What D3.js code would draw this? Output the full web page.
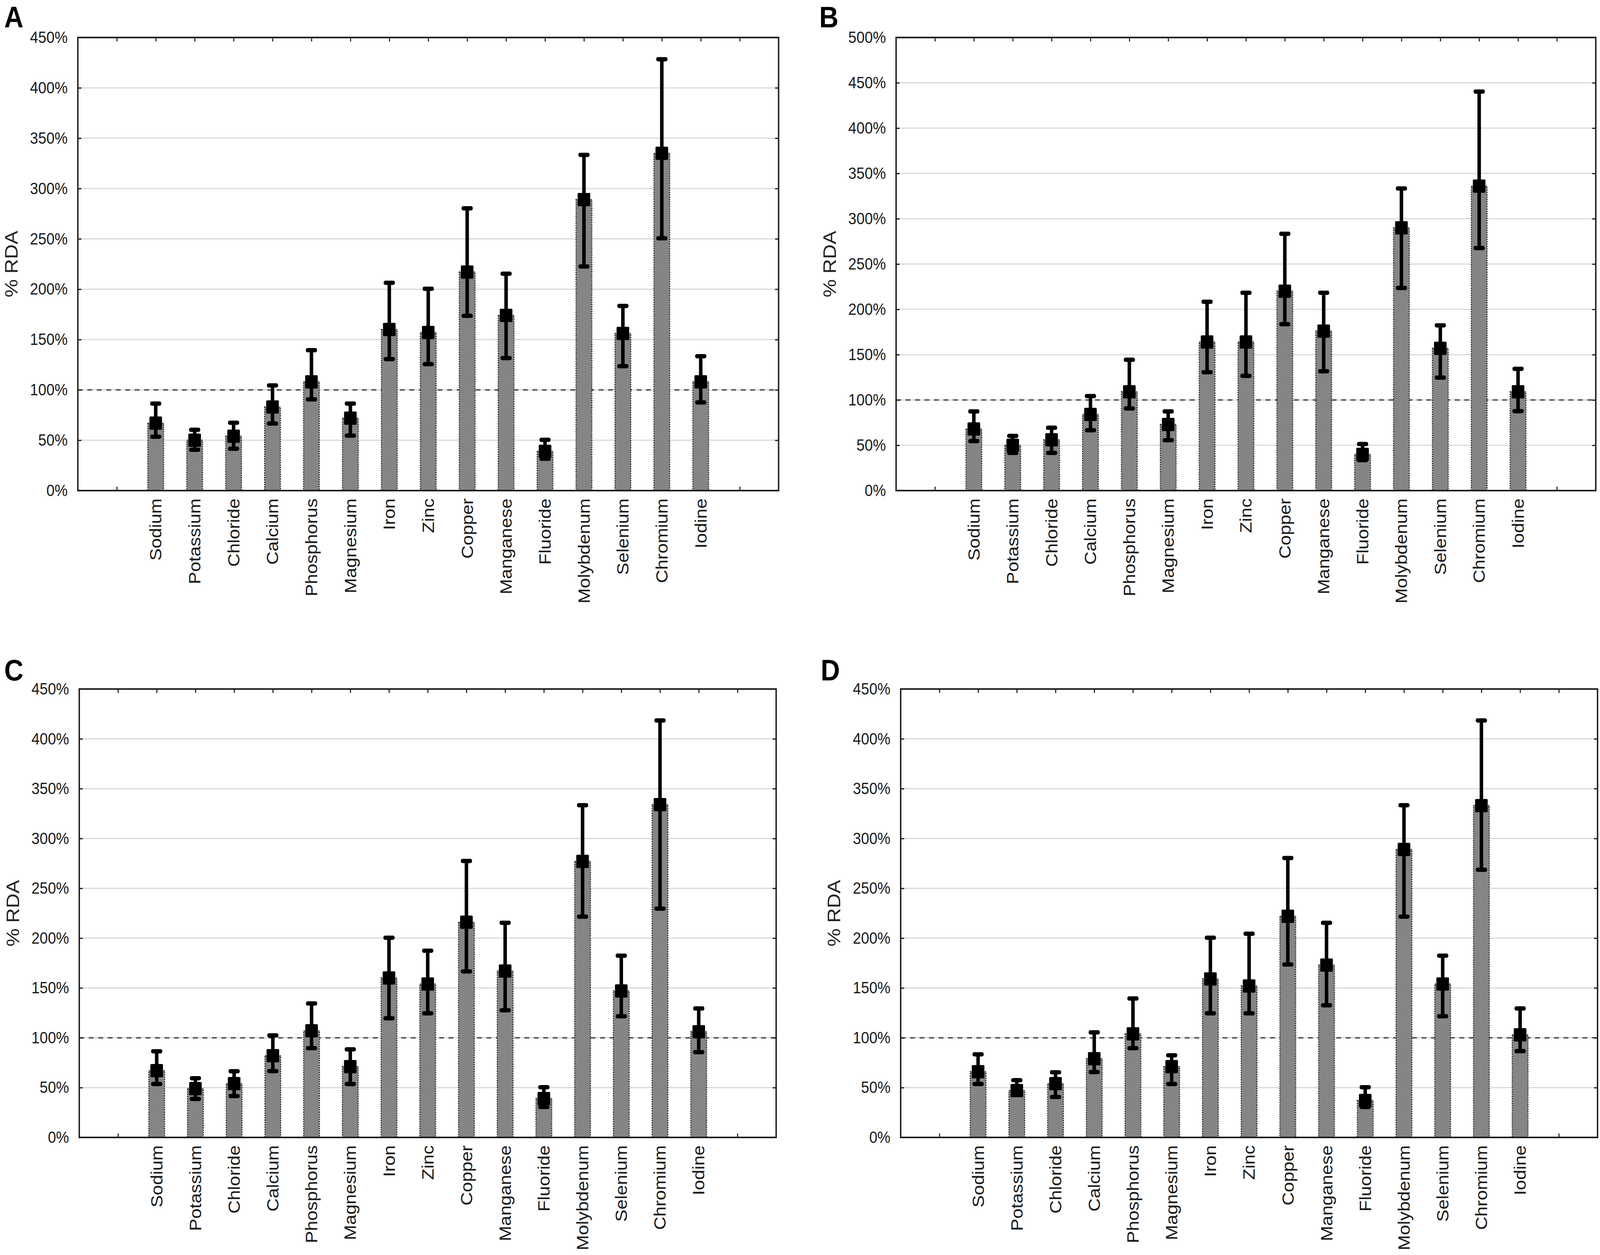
<meta charset="utf-8">
<html>
<head>
<style>
  html, body { margin: 0; padding: 0; background: #fff; overflow: hidden; }
  #chart svg { display: block; width: 100vw; height: 100vh; }
  .tick text { font-family: "Liberation Sans", Arial, sans-serif; font-size: 42px; fill: #1a1a1a; }
  .tick line { stroke: #1a1a1a; stroke-width: 3; }
  .catLabel { font-family: "Liberation Sans", Arial, sans-serif; font-size: 47px; fill: #1a1a1a; }
  .axisTitle { font-family: "Liberation Sans", Arial, sans-serif; font-size: 52px; fill: #222; }
  .panelLetter { font-family: "Liberation Sans", Arial, sans-serif; font-size: 76px; font-weight: bold; fill: #000; }
</style>
</head>
<script src="https://d3js.org/d3.v7.min.js"></script>
<div id="chart"></div>
<script>

// categories on the x axis
var minerals = ["Sodium", "Potassium", "Chloride", "Calcium", "Phosphorus", "Magnesium", "Iron", "Zinc",
                "Copper", "Manganese", "Fluoride", "Molybdenum", "Selenium", "Chromium", "Iodine"];

// y tick labels (in %)
var ticks450 = [0, 50, 100, 150, 200, 250, 300, 350, 400, 450];
var ticks500 = [0, 50, 100, 150, 200, 250, 300, 350, 400, 450, 500];

// panel A
var meanA = [67, 50, 54, 83, 108, 72, 160, 157, 217, 174, 39, 289, 156, 335, 108];
var lowA  = [53, 40, 41, 66, 90, 54, 130, 125, 173, 131, 31, 222, 123, 250, 87];
var highA = [87, 61, 68, 105, 140, 87, 207, 201, 281, 216, 51, 334, 184, 429, 134];

// panel B
var meanB = [68, 50, 56, 84, 109, 73, 164, 164, 220, 176, 40, 290, 157, 336, 109];
var lowB  = [54, 41, 41, 66, 90, 55, 130, 126, 183, 131, 33, 223, 124, 267, 87];
var highB = [88, 61, 70, 105, 145, 88, 209, 219, 284, 219, 52, 334, 183, 441, 135];

// panel C
var meanC = [67, 49, 54, 82, 107, 71, 160, 154, 216, 167, 39, 277, 147, 334, 106];
var lowC  = [53, 38, 41, 66, 89, 53, 119, 124, 166, 127, 30, 221, 121, 229, 85];
var highC = [87, 60, 67, 103, 135, 89, 201, 188, 278, 216, 51, 334, 183, 419, 130];

// panel D
var meanD = [66, 47, 54, 79, 104, 71, 159, 152, 222, 173, 37, 289, 154, 333, 103];
var lowD  = [53, 43, 40, 65, 89, 53, 124, 124, 173, 132, 30, 221, 121, 268, 86];
var highD = [84, 58, 66, 106, 140, 83, 201, 205, 281, 216, 51, 334, 183, 419, 130];

var refLine = 100;

// layout of the four panels
var panels = [
  {letter: "A", left: 222,  top: 96,   width: 1998, height: 1160, ticks: ticks450, mean: meanA, low: lowA, high: highA, lx: 12,   ly: 70},
  {letter: "B", left: 2555, top: 96,   width: 1995, height: 1160, ticks: ticks500, mean: meanB, low: lowB, high: highB, lx: 2336, ly: 70},
  {letter: "C", left: 226,  top: 1764, width: 1987, height: 1148, ticks: ticks450, mean: meanC, low: lowC, high: highC, lx: 12,   ly: 1742},
  {letter: "D", left: 2568, top: 1764, width: 1987, height: 1148, ticks: ticks450, mean: meanD, low: lowD, high: highD, lx: 2340, ly: 1742}
];

// drawing units of 4562 x 3213, stretched to fill the window
var svg = d3.select("#chart").append("svg")
  .attr("viewBox", "0 0 4562 3213")
  .attr("preserveAspectRatio", "none")
  .style("background", "#fff");

// checkered gray fill used by the bars
var pat = svg.append("defs").append("pattern")
  .attr("id", "check")
  .attr("width", 4).attr("height", 4)
  .attr("patternUnits", "userSpaceOnUse");
pat.append("rect").attr("width", 4).attr("height", 4).attr("fill", "#bdbdbd");
pat.append("rect").attr("width", 2).attr("height", 2).attr("fill", "#4d4d4d");
pat.append("rect").attr("x", 2).attr("y", 2).attr("width", 2).attr("height", 2).attr("fill", "#4d4d4d");

var slots = ["pad0"].concat(minerals).concat(["pad1"]);
var barW = 45;

panels.forEach(function(p) {
  var g = svg.append("g").attr("transform", "translate(" + p.left + "," + p.top + ")");

  var x = d3.scalePoint().domain(slots).range([0, p.width]).padding(1);
  var y = d3.scaleLinear().domain([0, d3.max(p.ticks)]).range([p.height, 0]);

  // gridlines
  g.selectAll(".grid")
    .data(p.ticks.slice(1, -1))
    .enter().append("line")
      .attr("x1", 0).attr("x2", p.width)
      .attr("y1", function(d) { return y(d); })
      .attr("y2", function(d) { return y(d); })
      .attr("stroke", "#d9d9d9")
      .attr("stroke-width", 3);

  // reference line at 100%
  g.append("line")
    .attr("x1", 0).attr("x2", p.width)
    .attr("y1", y(refLine)).attr("y2", y(refLine))
    .attr("stroke", "#333")
    .attr("stroke-width", 3)
    .attr("stroke-dasharray", "14,13");

  // axes with inward ticks
  var fmt = function(d) { return d + "%"; };
  g.append("g")
    .call(d3.axisLeft(y).tickValues(p.ticks).tickFormat(fmt).tickSizeInner(-10).tickSizeOuter(0).tickPadding(29));
  g.append("g").attr("transform", "translate(" + p.width + ",0)")
    .call(d3.axisRight(y).tickValues(p.ticks).tickFormat("").tickSizeInner(-10).tickSizeOuter(0));
  g.append("g").attr("transform", "translate(0," + p.height + ")")
    .call(d3.axisBottom(x).tickFormat("").tickSizeInner(-10).tickSizeOuter(0));
  g.append("g")
    .call(d3.axisTop(x).tickFormat("").tickSizeInner(-10).tickSizeOuter(0));
  g.selectAll(".domain").remove();

  var rows = minerals.map(function(m, i) {
    return {name: m, mean: p.mean[i], low: p.low[i], high: p.high[i]};
  });

  // bars
  g.selectAll(".bar")
    .data(rows)
    .enter().append("rect")
      .attr("x", function(d) { return x(d.name) - barW / 2; })
      .attr("y", function(d) { return y(d.mean); })
      .attr("width", barW)
      .attr("height", function(d) { return y(0) - y(d.mean); })
      .attr("fill", "url(#check)")
      .attr("stroke", "#222")
      .attr("stroke-width", 3)
      .attr("stroke-dasharray", "3,3");

  // whiskers
  var eb = g.selectAll(".err").data(rows).enter().append("g");
  eb.append("rect")
    .attr("x", function(d) { return x(d.name) - 5; })
    .attr("y", function(d) { return y(d.high); })
    .attr("width", 10)
    .attr("height", function(d) { return y(d.low) - y(d.high); })
    .attr("fill", "#000");
  eb.append("rect")
    .attr("x", function(d) { return x(d.name) - 16; })
    .attr("y", function(d) { return y(d.high) - 4; })
    .attr("width", 32).attr("height", 11).attr("rx", 5)
    .attr("fill", "#000");
  eb.append("rect")
    .attr("x", function(d) { return x(d.name) - 16; })
    .attr("y", function(d) { return y(d.low) - 7; })
    .attr("width", 32).attr("height", 11).attr("rx", 5)
    .attr("fill", "#000");
  eb.append("rect")
    .attr("x", function(d) { return x(d.name) - 18; })
    .attr("y", function(d) { return y(d.mean) - 17; })
    .attr("width", 36).attr("height", 34).attr("rx", 3)
    .attr("fill", "#000");

  // frame
  g.append("rect")
    .attr("width", p.width).attr("height", p.height)
    .attr("fill", "none")
    .attr("stroke", "#1a1a1a")
    .attr("stroke-width", 4);

  // category labels
  g.selectAll(".catLabel")
    .data(minerals)
    .enter().append("text")
      .attr("class", "catLabel")
      .attr("transform", function(d) { return "translate(" + x(d) + "," + (p.height + 20) + ") rotate(-90)"; })
      .attr("text-anchor", "end")
      .attr("dy", "0.35em")
      .text(function(d) { return d; });

  // y title
  g.append("text")
    .attr("class", "axisTitle")
    .attr("transform", "translate(" + (-190) + "," + (p.height / 2) + ") rotate(-90)")
    .attr("text-anchor", "middle")
    .attr("dy", "0.35em")
    .text("% RDA");

  svg.append("text")
    .attr("class", "panelLetter")
    .attr("x", p.lx).attr("y", p.ly)
    .text(p.letter);
});

</script>
</html>
